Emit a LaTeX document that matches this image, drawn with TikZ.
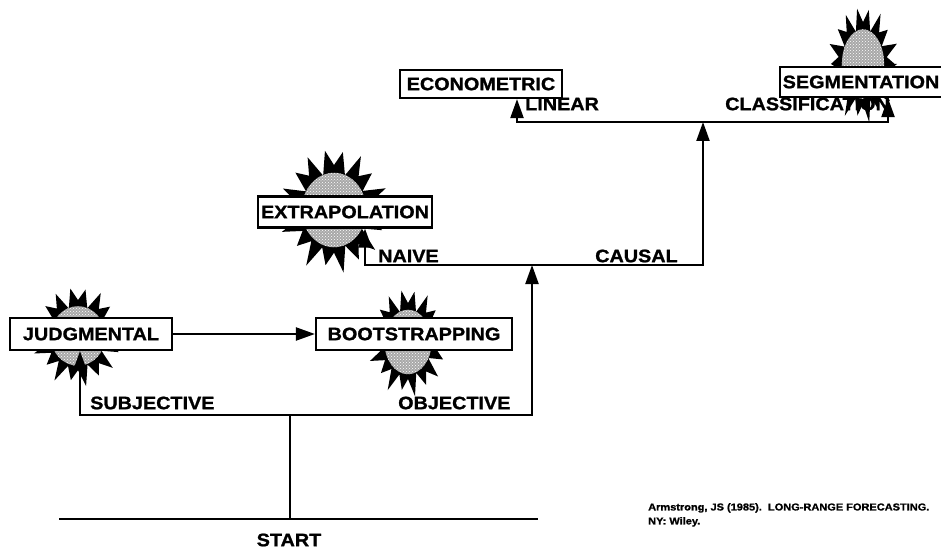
\documentclass[tikz,border=0pt]{standalone}
\usepackage{fontspec}
\setmainfont{Liberation Sans}[BoldFeatures={FakeBold=1.2,FakeStretch=1.1}]
\usetikzlibrary{arrows.meta,patterns}
\tikzset{
  method/.style={draw, line width=2.2pt, fill=white, inner sep=3pt, minimum height=32pt, font=\fontsize{18}{20}\selectfont\bfseries},
  pathlabel/.style={anchor=west, inner sep=0pt, font=\fontsize{18}{20}\selectfont\bfseries},
  wire/.style={line width=2.2pt, line cap=rect},
  arrowed/.style={line width=2.2pt, -{Triangle[length=19pt,width=13pt]}},
}
\begin{document}
\begin{tikzpicture}[x=1pt,y=-1pt]
    \useasboundingbox (0,0) rectangle (941,556);
    % starbursts behind the methods
    \foreach \cx/\cy/\rx/\ry in {78/336/44/48, 334/210/52/60, 408/342/38/52, 863/64/34/56} {
        \fill[black] plot[samples=37, domain=0:36, variable=\k]
            ({\cx+\rx*(1+0.07*sin(\k*97)-0.32*mod(\k,2))*cos(\k*360/36)},
             {\cy+\ry*(1+0.07*sin(\k*97)-0.32*mod(\k,2))*sin(\k*360/36)}) -- cycle;
        \fill[gray!68] (\cx,\cy) ellipse[x radius=0.62*\rx, y radius=0.62*\ry];
        \fill[pattern=crosshatch dots, pattern color=white] (\cx,\cy) ellipse[x radius=0.62*\rx, y radius=0.62*\ry];
    }

    % methods
    \node[method, minimum width=162pt] (judgmental) at (91,334) {JUDGMENTAL};
    \node[method, minimum width=196pt] (bootstrap) at (414,334) {BOOTSTRAPPING};
    \node[method, minimum width=160pt, minimum height=31pt] (extrapol) at (345,212) {EXTRAPOLATION};
    \node[method, minimum width=162pt, minimum height=28pt] (econometric) at (481,84) {ECONOMETRIC};
    \node[method, minimum width=153pt, minimum height=30pt] (segmentation) at (861,82) {SEGMENTATION};

    % junctions of the tree
    \coordinate (startleft) at (60,519);
    \coordinate (startright) at (537,519);
    \coordinate (startbase) at (290,519);
    \coordinate (startfork) at (290,415);
    \coordinate (subjfoot) at (80,415);
    \coordinate (objfoot) at (532,415);
    \coordinate (naivefoot) at (365,265);
    \coordinate (causalfoot) at (703,265);
    \coordinate (linfoot) at (517,122);
    \coordinate (classfoot) at (888,122);

    \draw[wire] (startleft) -- (startright);
    \draw[wire] (startbase) -- (startfork);
    \draw[wire] (subjfoot) -- (objfoot);
    \draw[arrowed] (subjfoot) -- (subjfoot |- judgmental.south);
    \draw[arrowed] (objfoot) -- (objfoot |- naivefoot);
    \draw[arrowed] (judgmental.east) -- (judgmental.east -| bootstrap.west);
    \draw[wire] (naivefoot) -- (causalfoot);
    \draw[arrowed] (naivefoot) -- (naivefoot |- extrapol.south);
    \draw[arrowed] (causalfoot) -- (causalfoot |- linfoot);
    \draw[wire] (linfoot) -- (classfoot);
    \draw[arrowed] (linfoot) -- (linfoot |- econometric.south);
    \draw[arrowed] (classfoot) -- (classfoot |- segmentation.south);

    % branch labels
    \node[pathlabel] (subj) at (90,403) {SUBJECTIVE};
    \node[pathlabel] (obj) at (398,403) {OBJECTIVE};
    \node[pathlabel] (naive) at (378,256) {NAIVE};
    \node[pathlabel] (causal) at (595,256) {CAUSAL};
    \node[pathlabel] (linear) at (525,104) {LINEAR};
    \node[pathlabel] (classif) at (725,104) {CLASSIFICATION};
    \node[inner sep=0pt, font=\fontsize{18}{20}\selectfont\bfseries] (start) at (289,540) {START};

    \node[anchor=north west, align=left, inner sep=0pt, font=\fontsize{10}{14}\selectfont\bfseries] (cite) at (648,503)
        {Armstrong, JS (1985).\ \ LONG-RANGE FORECASTING.\\NY: Wiley.};
\end{tikzpicture}
\end{document}
